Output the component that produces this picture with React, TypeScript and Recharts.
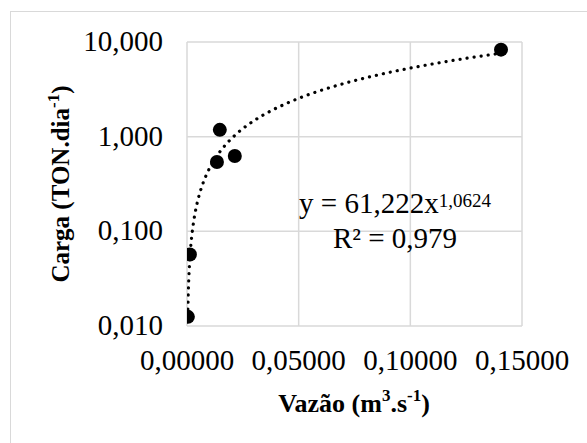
import { ComposedChart, Scatter, Line, XAxis, YAxis, CartesianGrid } from 'recharts'

// measured points (Vazão m³/s, Carga TON/dia)
const vazao = [0.0004, 0.0013, 0.0134, 0.0147, 0.0214, 0.1406]
const carga = [0.0125, 0.057, 0.54, 1.18, 0.625, 8.3]

const xTicks = [0, 0.05, 0.1, 0.15]
const yTicks = [0.01, 0.1, 1, 10]

// power trendline shown on the chart: y = 61,222 x^1,0624
const trendA = 61.222
const trendB = 1.0624

const points = vazao.map((x, i) => ({ x, y: carga[i] }))

// sample the trendline across the data range (log spaced so the steep start is smooth)
const xMin = Math.min(...vazao)
const xMax = Math.max(...vazao)
const trend = Array.from({ length: 80 }, (_, i) => {
  const x = xMin * Math.pow(xMax / xMin, i / 79)
  return { x, y: trendA * Math.pow(x, trendB) }
})

const font = '"Liberation Serif", "Times New Roman", serif'
const grid = '#d9d9d9'

const fmt = (v: number, d: number) => v.toFixed(d).replace('.', ',')

const XTick = ({ x, y, payload }: any) => (
  <text x={x} y={y + 19} textAnchor="middle" fill="#000" fontSize={29} style={{ fontFamily: font }}>
    {fmt(payload.value, 5)}
  </text>
)

const YTick = ({ x, y, payload }: any) => (
  <text x={x} y={y + 9} textAnchor="end" fill="#000" fontSize={29} style={{ fontFamily: font }}>
    {fmt(payload.value, 3)}
  </text>
)

const supStyle = { fontSize: 17, verticalAlign: 'top', position: 'relative' as const, top: -3 }

export default function App() {
  return (
    <div style={{ position: 'fixed', left: 0, top: 0, width: 587, height: 443, overflow: 'hidden', background: '#fff', fontFamily: font }}>
      <div style={{ position: 'absolute', left: 10, top: 11, width: 620, height: 480, border: `1px solid ${grid}` }} />
      <ComposedChart
        width={587}
        height={443}
        margin={{ top: 42, right: 65, bottom: 37, left: 0 }}
        style={{ position: 'absolute', left: 0, top: 0 }}
      >
        <CartesianGrid stroke={grid} strokeWidth={1.5} />
        <XAxis
          type="number"
          dataKey="x"
          domain={[0, 0.15]}
          ticks={xTicks}
          allowDataOverflow
          axisLine={false}
          tickLine={false}
          tickSize={0}
          tickMargin={25}
          height={80}
          interval={0}
          tick={<XTick />}
        />
        <YAxis
          type="number"
          dataKey="y"
          scale="log"
          domain={[0.01, 10]}
          ticks={yTicks}
          allowDataOverflow
          axisLine={false}
          tickLine={false}
          tickSize={0}
          tickMargin={24}
          width={187}
          interval={0}
          tick={<YTick />}
        />
        <Line
          data={trend}
          dataKey="y"
          type="monotone"
          stroke="#000"
          strokeWidth={3.2}
          strokeDasharray="0.1 7"
          strokeLinecap="round"
          dot={false}
          activeDot={false}
          isAnimationActive={false}
        />
        <Scatter
          data={points}
          dataKey="y"
          isAnimationActive={false}
          shape={(p: any) => <circle cx={p.cx} cy={p.cy} r={7} fill="#000" />}
        />
      </ComposedChart>

      <div style={{ position: 'absolute', left: 395, top: 186, transform: 'translateX(-50%)', fontSize: 29, lineHeight: '35px', textAlign: 'center', whiteSpace: 'nowrap', color: '#000' }}>
        <div>y = 61,222x<sup style={{ fontSize: 19, verticalAlign: 'top', position: 'relative', top: -3 }}>1,0624</sup></div>
        <div>R² = 0,979</div>
      </div>

      <div style={{ position: 'absolute', left: 354, top: 389, transform: 'translateX(-50%)', fontSize: 26, fontWeight: 'bold', whiteSpace: 'nowrap', color: '#000' }}>
        Vazão (m<sup style={supStyle}>3</sup>.s<sup style={supStyle}>-1</sup>)
      </div>

      <div style={{ position: 'absolute', left: 61, top: 184, transform: 'translate(-50%, -50%) rotate(-90deg)', fontSize: 25, fontWeight: 'bold', whiteSpace: 'nowrap', color: '#000' }}>
        Carga (TON.dia<sup style={supStyle}>-1</sup>)
      </div>
    </div>
  )
}
